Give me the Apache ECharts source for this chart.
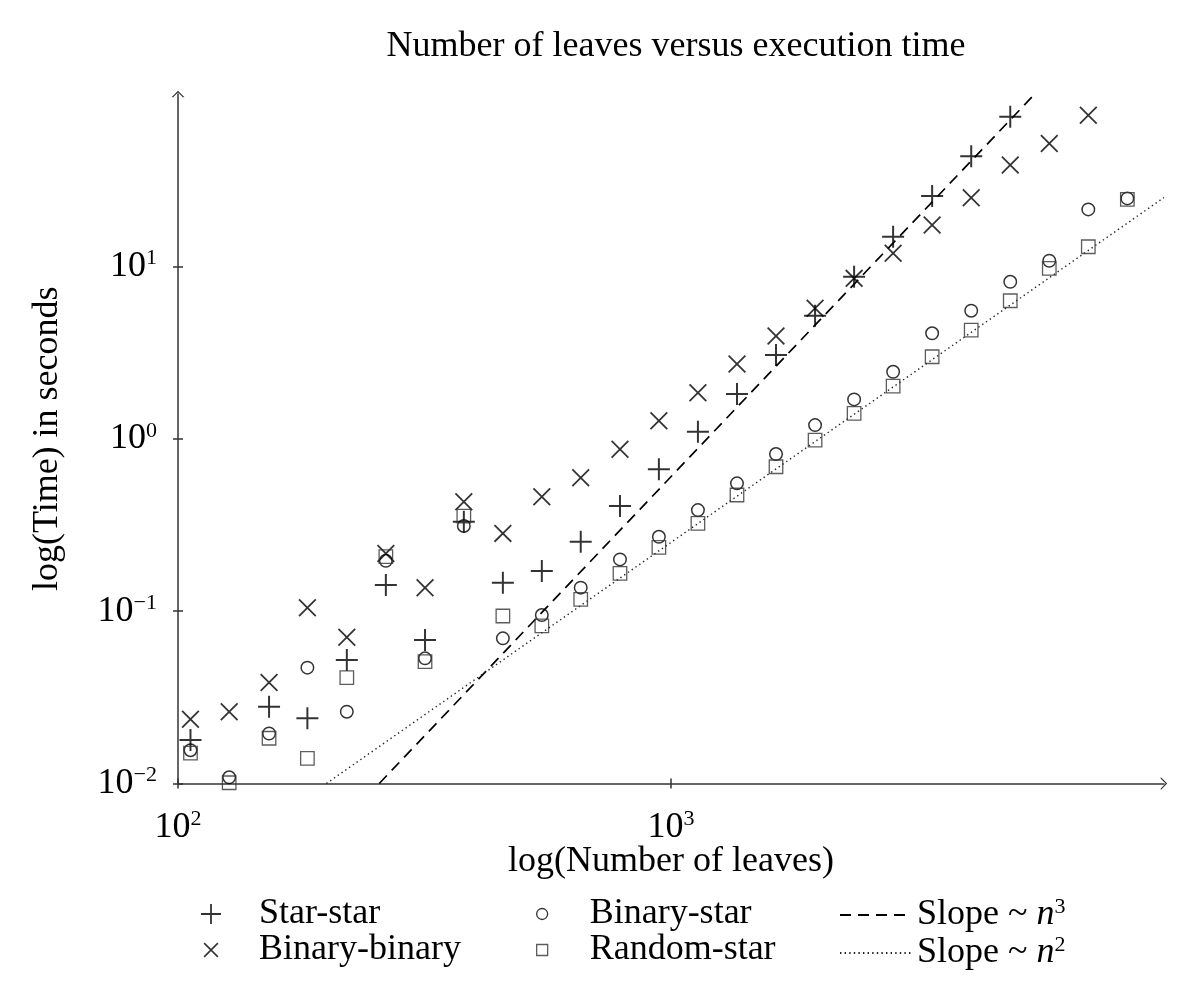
<!DOCTYPE html>
<html>
<head>
<meta charset="utf-8">
<script src="https://cdn.jsdelivr.net/npm/echarts@6/dist/echarts.min.js"></script>
<style>html,body{margin:0;padding:0;background:#fff}#chart{width:1200px;height:1002px}</style>
</head>
<body>
<div id="chart"></div>
<script>
// ---------- data ----------
const leaves = [106, 127, 153, 183, 220, 264, 317, 380, 456, 547, 656, 788, 945, 1134, 1361, 1633, 1960, 2352, 2822, 3386, 4064, 4877, 5852, 7022, 8427];
const starStar = [0.0179, null, 0.0279, 0.0239, 0.052, 0.1416, 0.0679, 0.33, 0.146, 0.171, 0.253, 0.407, 0.6645, 1.098, 1.816, 3.06, 5.17, 8.7, 14.85, 25.6, 43.6, 73.8, null, null, null];
const binaryBinary = [0.0236, 0.0261, 0.0386, 0.1047, 0.0705, 0.216, 0.1368, 0.4315, 0.2825, 0.4615, 0.594, 0.868, 1.27, 1.848, 2.713, 3.94, 5.71, 8.52, 11.9, 17.4, 25.0, 38.7, 51.7, 75.4, null];
const binaryStar = [0.0156, 0.01086, 0.0195, 0.047, 0.0261, 0.196, 0.0532, 0.312, 0.0695, 0.0949, 0.1368, 0.1995, 0.27, 0.3855, 0.551, 0.815, 1.2, 1.692, 2.446, 4.09, 5.53, 8.14, 10.78, 21.4, 24.8];
const randomStar = [0.015, 0.0101, 0.0183, 0.014, 0.0411, 0.207, 0.0509, 0.356, 0.0937, 0.0822, 0.117, 0.1655, 0.2345, 0.323, 0.4716, 0.688, 0.983, 1.404, 2.022, 2.99, 4.27, 6.32, 9.74, 13.0, 24.5];
const slopeN3 = [[256, 0.01], [5470, 100]];
const slopeN2 = [[200, 0.01], [10000, 25.1]];
const xTickValues = [100, 1000];
const xTickExponents = ['2', '3'];
const yTickValues = [0.01, 0.1, 1, 10];
const yTickExponents = ['\u22122', '\u22121', '0', '1'];
const seriesNames = ['Star-star', 'Binary-binary', 'Binary-star', 'Random-star', 'Slope n3', 'Slope n2'];

// ---------- helpers ----------
const F = '"Liberation Serif", "DejaVu Serif", serif';
const FS = 36, FSUP = 22;
function pairs(ys) {
  const out = [];
  ys.forEach((y, i) => { if (y != null) out.push([leaves[i], y]); });
  return out;
}
function expLabel(vals, exps) {
  return function (v) {
    for (let i = 0; i < vals.length; i++) {
      if (Math.abs(Math.log10(v) - Math.log10(vals[i])) < 1e-6) return '{b|10}{e|' + exps[i] + '}';
    }
    return '';
  };
}
const richExp = {
  b: { fontSize: FS, fontFamily: F, color: '#000', lineHeight: 38 },
  e: { fontSize: FSUP, fontFamily: F, color: '#000', lineHeight: 24, verticalAlign: 'top' }
};
const plusPath = 'path://M0,9.1 H20 V10.9 H0 Z M9.1,0 H10.9 V20 H9.1 Z';
const crossPath = 'path://M0,1.4 L1.4,0 L20,18.6 L18.6,20 Z M18.6,0 L20,1.4 L1.4,20 L0,18.6 Z';
const crossLegendPath = 'path://M-3.5,-3.5 M23.5,23.5 M0,1.5 L1.5,0 L20,18.5 L18.5,20 Z M18.5,0 L20,1.5 L1.5,20 L0,18.5 Z';
const arrowPath = 'path://M0,10 L10,0 L20,10 L17.5,10 L10,2.5 L2.5,10 Z';
const axisColor = '#333';

const chart = echarts.init(document.getElementById('chart'), null, { renderer: 'canvas' });

function logAxis(min, max, vals, exps, isX, name) {
  const main = {
    type: 'log', logBase: 10, min: min, max: max,
    position: isX ? 'bottom' : 'left',
    name: name, nameLocation: 'middle',
    nameGap: isX ? 60 : 112,
    nameMoveOverlap: false,
    nameTextStyle: { fontSize: FS, fontFamily: F, color: '#000' },
    axisLine: { show: true, lineStyle: { color: axisColor, width: 1.5 }, symbol: ['none', arrowPath], symbolSize: [13, 8] },
    axisTick: { show: true, inside: false, length: 5, lineStyle: { color: axisColor, width: 1.5 }, customValues: vals },
    axisLabel: { show: true, margin: isX ? 25 : 21, formatter: expLabel(vals, exps), rich: richExp, customValues: vals },
    splitLine: { show: false }, minorTick: { show: false }
  };
  const inner = {
    type: 'log', logBase: 10, min: min, max: max,
    position: isX ? 'bottom' : 'left',
    axisLine: { show: false },
    axisTick: { show: true, inside: true, length: 5, lineStyle: { color: axisColor, width: 1.5 }, customValues: vals },
    axisLabel: { show: false }, splitLine: { show: false }
  };
  return [main, inner];
}

const slopeRich = {
  t: { fontSize: FS, fontFamily: F, color: '#000', lineHeight: 38 },
  i: { fontSize: FS, fontFamily: F, fontStyle: 'italic', color: '#000', lineHeight: 38 },
  e: { fontSize: FSUP, fontFamily: F, color: '#000', lineHeight: 24, verticalAlign: 'top' }
};

const option = {
  backgroundColor: '#fff',
  animation: false,
  title: {
    text: 'Number of leaves versus execution time',
    left: 671, top: 24, textAlign: 'center',
    textStyle: { fontSize: FS, fontFamily: F, fontWeight: 'normal', color: '#000' }
  },
  grid: { left: 178, right: 36, top: 94, bottom: 218.5, containLabel: false },
  xAxis: logAxis(100, 10000, xTickValues, xTickExponents, true, 'log(Number of leaves)'),
  yAxis: logAxis(0.01, 100, yTickValues, yTickExponents, false, 'log(Time) in seconds'),
  legend: [
    {
      data: [{ name: seriesNames[0], icon: plusPath }, { name: seriesNames[1], icon: crossLegendPath }],
      orient: 'vertical', left: 196, top: 891, itemWidth: 20, itemHeight: 20, itemGap: 0,
      selectedMode: false,
      textStyle: { fontSize: FS, fontFamily: F, color: '#000', lineHeight: 34, padding: [0, 0, 0, 33] }
    },
    {
      data: [seriesNames[2], seriesNames[3]],
      orient: 'vertical', left: 531, top: 891, itemWidth: 11, itemHeight: 11, itemGap: 0,
      selectedMode: false,
      itemStyle: { borderWidth: 1.3 },
      textStyle: { fontSize: FS, fontFamily: F, color: '#000', lineHeight: 34, padding: [0, 0, 0, 37] }
    },
    {
      data: [seriesNames[4], seriesNames[5]],
      orient: 'vertical', left: 834, top: 891, itemWidth: 72, itemHeight: 14, itemGap: 0,
      selectedMode: false,
      itemStyle: { opacity: 0, color: 'rgba(0,0,0,0)', borderWidth: 0 },
      formatter: function (n) {
        return '{t|Slope ~ }{i|n}{e|' + (n === seriesNames[4] ? '3' : '2') + '}';
      },
      textStyle: { fontSize: FS, fontFamily: F, color: '#000', lineHeight: 34, rich: slopeRich }
    }
  ],
  series: [
    {
      name: seriesNames[0], type: 'scatter', data: pairs(starStar),
      symbol: plusPath, symbolSize: 22,
      itemStyle: { color: '#000' }, z: 5
    },
    {
      name: seriesNames[1], type: 'scatter', data: pairs(binaryBinary),
      symbol: crossPath, symbolSize: 18,
      itemStyle: { color: '#000' }, z: 5
    },
    {
      name: seriesNames[2], type: 'scatter', data: pairs(binaryStar),
      symbol: 'circle', symbolSize: 12.5,
      itemStyle: { color: 'rgba(0,0,0,0)', borderColor: '#000', borderWidth: 1.5 }, z: 5
    },
    {
      name: seriesNames[3], type: 'scatter', data: pairs(randomStar),
      symbol: 'rect', symbolSize: 13.5,
      itemStyle: { color: 'rgba(0,0,0,0)', borderColor: '#333', borderWidth: 1.3 }, z: 5
    },
    {
      name: seriesNames[4], type: 'line', data: slopeN3,
      symbol: 'none', showSymbol: false, color: '#000',
      lineStyle: { color: '#000', width: 1.7, type: [11, 7] }, z: 4
    },
    {
      name: seriesNames[5], type: 'line', data: slopeN2,
      symbol: 'none', showSymbol: false, color: '#000',
      lineStyle: { color: '#222', width: 1.4, type: [1.4, 3.2] }, z: 4
    }
  ]
};
chart.setOption(option);
</script>
</body>
</html>
